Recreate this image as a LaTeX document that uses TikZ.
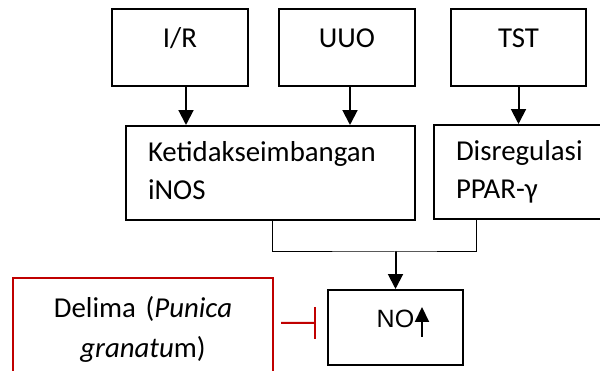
\documentclass[tikz,border=0pt]{standalone}
\usepackage{fontspec}
\setmainfont{Carlito}
\newfontfamily\arialfont{Liberation Sans}
\usepackage{tikz}
\usepackage{tkz-euclide}
\usetikzlibrary{calc}
\usetikzlibrary{arrows.meta}

\definecolor{inhibred}{HTML}{C00000}

\tikzset{
    box/.style={draw,line width=0.05cm,inner sep=0pt,minimum height=1.925cm,
        text height=0.45cm,text depth=0.45cm,font=\fontsize{20.5}{27}\selectfont},
    textbox/.style={draw,line width=0.05cm,inner sep=0pt,inner xsep=0.55cm,
        minimum height=2.35cm,align=left,font=\fontsize{20.5}{27}\selectfont},
    redbox/.style={draw=inhibred,line width=0.05cm,inner sep=0pt,minimum width=6.5cm,
        minimum height=2.57cm,text width=6.1cm,align=center,font=\fontsize{20.5}{28.5}\selectfont},
    arr/.style={line width=0.05cm,-{Triangle[length=0.37cm,width=0.37cm]}},
    uparr/.style={line width=0.05cm,-{Triangle[length=0.375cm,width=0.35cm]}},
    link/.style={line width=0.025cm},
    inhib/.style={inhibred,line width=0.05cm,-{Bar[width=0.8cm]}}
}

\begin{document}
\begin{tikzpicture}
                    \useasboundingbox (0,0) rectangle (15,9.275);

                    \node[box,minimum width=3.4cm] (ir) at (4.5,8.0875) {I/R};
                    \node[box,minimum width=3.4cm] (uuo) at (8.675,8.0875) {UUO};
                    \node[box,minimum width=3.375cm] (tst) at (12.9625,8.0875) {TST};

                    \node[textbox,text width=6.125cm] (ket) at (6.7625,4.95)
                        {\strut Ketidakseimbangan\\ iNOS\strut};
                    \node[textbox,text width=3.35cm] (dis) at (13.075,4.975)
                        {\strut Disregulasi\\ PPAR-γ\strut};

                    \node[box,minimum width=3.375cm,minimum height=1.875cm,
                        font=\arialfont\fontsize{17.8}{24}\selectfont] (no) at (9.8875,1.0875) {NO};
                    \node[redbox] (dlm) at (3.575,1.04)
                        {\strut Delima (\textit{Punica}\\ \textit{granatu}m)\strut};

                    \draw[arr] ([xshift=0.15cm]ir.south) -- ([xshift=0.15cm]ir.south |- ket.north);
                    \draw[arr] ([xshift=0.075cm]uuo.south) -- ([xshift=0.075cm]uuo.south |- ket.north);
                    \draw[arr] (tst.south) -- (tst.south |- dis.north);

                    \tkzDefPoint(9.8875,2.975){M}
                    \draw[link] ([xshift=0.06cm]ket.south) |- (M) -| ([xshift=-1.175cm]dis.south);
                    \tkzDrawSegment[arr](M,no.north)

                    \draw[uparr] ([xshift=0.6625cm,yshift=-0.2375cm]no.center) -- ++(0,0.75);
                    \draw[inhib] ([xshift=0.175cm,yshift=0.16cm]dlm.east) -- ([xshift=-0.275cm,yshift=0.1125cm]no.west);
\end{tikzpicture}
\end{document}
